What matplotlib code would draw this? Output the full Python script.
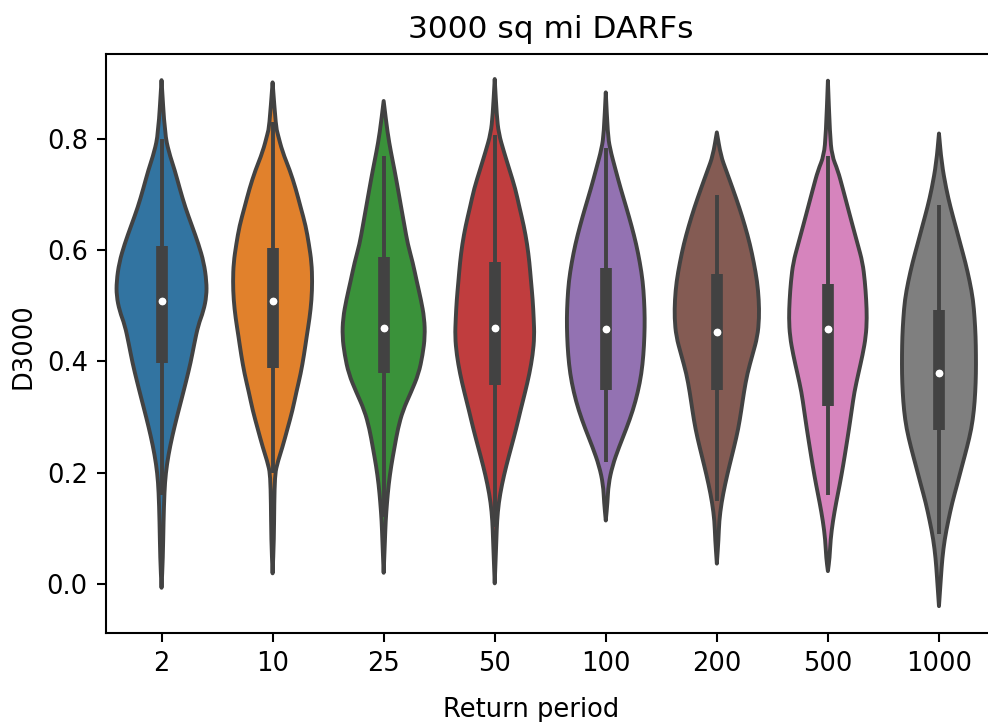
import matplotlib
matplotlib.use("Agg")
import matplotlib.pyplot as plt
from matplotlib.path import Path
from matplotlib.patches import PathPatch

# return periods on the x axis
periods = ["2", "10", "25", "50", "100", "200", "500", "1000"]

# violin outlines: y levels (top tip -> bottom tip) and half widths
violin_y = [
    [0.906, 0.810, 0.777, 0.744, 0.711, 0.677, 0.644, 0.611, 0.578, 0.544, 0.518, 0.491, 0.465,
     0.432, 0.398, 0.365, 0.332, 0.299, 0.266, 0.232, 0.199, 0.166, 0.113, 0.046, -0.007],
    [0.902, 0.823, 0.810, 0.777, 0.744, 0.711, 0.677, 0.644, 0.611, 0.578, 0.544, 0.511, 0.478,
     0.445, 0.412, 0.378, 0.345, 0.312, 0.279, 0.246, 0.2125, 0.193, 0.146, 0.080, 0.019],
    [0.8685, 0.810, 0.777, 0.744, 0.711, 0.677, 0.644, 0.611, 0.578, 0.544, 0.511, 0.478, 0.445,
     0.412, 0.378, 0.345, 0.312, 0.279, 0.246, 0.2125, 0.179, 0.146, 0.113, 0.080, 0.020],
    [0.908, 0.843, 0.810, 0.777, 0.744, 0.711, 0.677, 0.644, 0.611, 0.578, 0.544, 0.511, 0.478,
     0.445, 0.412, 0.378, 0.345, 0.312, 0.279, 0.246, 0.2125, 0.179, 0.146, 0.113, 0.080, 0.001],
    [0.884, 0.810, 0.784, 0.744, 0.711, 0.677, 0.644, 0.611, 0.578, 0.544, 0.511, 0.478, 0.445,
     0.412, 0.378, 0.345, 0.312, 0.279, 0.246, 0.2125, 0.179, 0.146, 0.114],
    [0.812, 0.770, 0.744, 0.711, 0.677, 0.644, 0.611, 0.578, 0.544, 0.511, 0.478, 0.445, 0.412,
     0.378, 0.345, 0.312, 0.279, 0.246, 0.2125, 0.179, 0.146, 0.113, 0.080, 0.0365],
    [0.905, 0.810, 0.770, 0.744, 0.711, 0.677, 0.644, 0.611, 0.578, 0.544, 0.511, 0.478, 0.445,
     0.412, 0.378, 0.345, 0.312, 0.279, 0.246, 0.2125, 0.179, 0.146, 0.113, 0.080, 0.046, 0.023],
    [0.810, 0.757, 0.7105, 0.677, 0.644, 0.611, 0.578, 0.544, 0.511, 0.478, 0.445, 0.412, 0.378,
     0.345, 0.312, 0.279, 0.246, 0.2125, 0.179, 0.146, 0.113, 0.080, 0.046, 0.013, -0.040],
]
violin_hw = [
    [0, 0.030, 0.065, 0.119, 0.164, 0.214, 0.274, 0.333, 0.381, 0.405, 0.405, 0.378, 0.330,
     0.295, 0.262, 0.222, 0.180, 0.137, 0.097, 0.062, 0.038, 0.026, 0.018, 0.012, 0],
    [0, 0.030, 0.045, 0.089, 0.155, 0.208, 0.253, 0.298, 0.327, 0.351, 0.357, 0.351, 0.333,
     0.307, 0.283, 0.253, 0.214, 0.179, 0.134, 0.089, 0.036, 0.021, 0.015, 0.012, 0],
    [0, 0.036, 0.065, 0.098, 0.128, 0.158, 0.1875, 0.217, 0.262, 0.298, 0.336, 0.366, 0.372,
     0.351, 0.315, 0.247, 0.173, 0.128, 0.098, 0.068, 0.045, 0.030, 0.018, 0.012, 0],
    [0, 0.018, 0.036, 0.083, 0.134, 0.185, 0.223, 0.262, 0.292, 0.3125, 0.327, 0.342, 0.351,
     0.357, 0.342, 0.3125, 0.274, 0.232, 0.193, 0.149, 0.104, 0.065, 0.036, 0.021, 0.015, 0],
    [0, 0.018, 0.036, 0.089, 0.134, 0.185, 0.232, 0.274, 0.307, 0.333, 0.345, 0.351, 0.348,
     0.339, 0.321, 0.289, 0.244, 0.185, 0.119, 0.060, 0.024, 0.015, 0],
    [0, 0.036, 0.083, 0.143, 0.202, 0.253, 0.298, 0.333, 0.363, 0.378, 0.381, 0.366, 0.321,
     0.274, 0.244, 0.220, 0.193, 0.155, 0.113, 0.074, 0.042, 0.021, 0.015, 0],
    [0, 0.018, 0.036, 0.089, 0.134, 0.179, 0.223, 0.268, 0.3125, 0.333, 0.345, 0.351, 0.342,
     0.3125, 0.274, 0.238, 0.214, 0.190, 0.164, 0.137, 0.107, 0.074, 0.045, 0.024, 0.015, 0],
    [0, 0.024, 0.065, 0.104, 0.149, 0.193, 0.238, 0.277, 0.307, 0.321, 0.330, 0.333, 0.333,
     0.327, 0.315, 0.292, 0.253, 0.208, 0.164, 0.119, 0.083, 0.051, 0.030, 0.018, 0],
]

# inner box stats
q1 = [0.398, 0.388, 0.3785, 0.3585, 0.349, 0.349, 0.320, 0.276]
med = [0.508, 0.508, 0.4595, 0.4595, 0.459, 0.4535, 0.459, 0.380]
q3 = [0.608, 0.604, 0.588, 0.579, 0.568, 0.558, 0.540, 0.493]
whisk_lo = [0.16, 0.20, 0.1195, 0.103, 0.219, 0.149, 0.159, 0.0896]
whisk_hi = [0.80, 0.83, 0.770, 0.807, 0.784, 0.700, 0.770, 0.681]

colors = ["#3274a1", "#e1812c", "#3a923a", "#c03d3e", "#9372b2", "#845b53", "#d684bd", "#7f7f7f"]
gray = "#424242"
k = 1.87  # scale of the original figure
lw = 1.5 * k


def smooth_side(pts, first):
    # quadratic b-spline through the outline points, tips kept sharp
    verts = [pts[0]]
    codes = [Path.MOVETO if first else Path.LINETO]
    mids = [((pts[j][0] + pts[j + 1][0]) / 2, (pts[j][1] + pts[j + 1][1]) / 2) for j in range(len(pts) - 1)]
    verts.append(mids[0])
    codes.append(Path.LINETO)
    for j in range(1, len(pts) - 1):
        verts += [pts[j], mids[j]]
        codes += [Path.CURVE3, Path.CURVE3]
    verts.append(pts[-1])
    codes.append(Path.LINETO)
    return verts, codes


fig = plt.figure(figsize=(9.88, 7.22), dpi=100)
ax = fig.add_axes([106 / 988, 89 / 722, 888.5 / 988, 579 / 722])

for i in range(len(periods)):
    ys = violin_y[i]
    hw = violin_hw[i]
    right = [(i + w, y) for y, w in zip(ys, hw)][::-1]   # bottom -> top
    left = [(i - w, y) for y, w in zip(ys, hw)]          # top -> bottom
    v1, c1 = smooth_side(right, True)
    v2, c2 = smooth_side(left, False)
    verts = v1 + v2 + [v1[0]]
    codes = c1 + c2 + [Path.CLOSEPOLY]
    patch = PathPatch(Path(verts, codes), facecolor=colors[i], edgecolor=gray,
                      linewidth=lw, joinstyle="round", zorder=1)
    ax.add_patch(patch)
    ax.plot([i, i], [whisk_lo[i], whisk_hi[i]], color=gray, lw=lw, solid_capstyle="butt", zorder=2)
    ax.plot([i, i], [q1[i], q3[i]], color=gray, lw=lw * 3, solid_capstyle="butt", zorder=2)
    ax.scatter(i, med[i], s=(lw * 2.3) ** 2, color="white", edgecolor=gray, linewidth=0.8, zorder=3)

ax.set_xlim(-0.5, 7.5)
ax.set_ylim(-0.0883, 0.953)
ax.set_xticks(range(len(periods)))
ax.set_xticklabels(periods)
ax.set_yticks([0.0, 0.2, 0.4, 0.6, 0.8])
ax.tick_params(labelsize=18.5, width=0.8 * k, length=3.5 * k, pad=3.5 * k)
for s in ax.spines.values():
    s.set_linewidth(0.8 * k)
ax.spines["right"].set_visible(False)  # cut off in the original
ax.set_xlabel("Return period", fontsize=18.5, labelpad=14, x=0.479)
ax.set_ylabel("D3000", fontsize=18.5, labelpad=4 * k, y=0.495)
ax.set_title("3000 sq mi DARFs", fontsize=22.5, pad=6 * k)

fig.savefig("out.png", dpi=100)
